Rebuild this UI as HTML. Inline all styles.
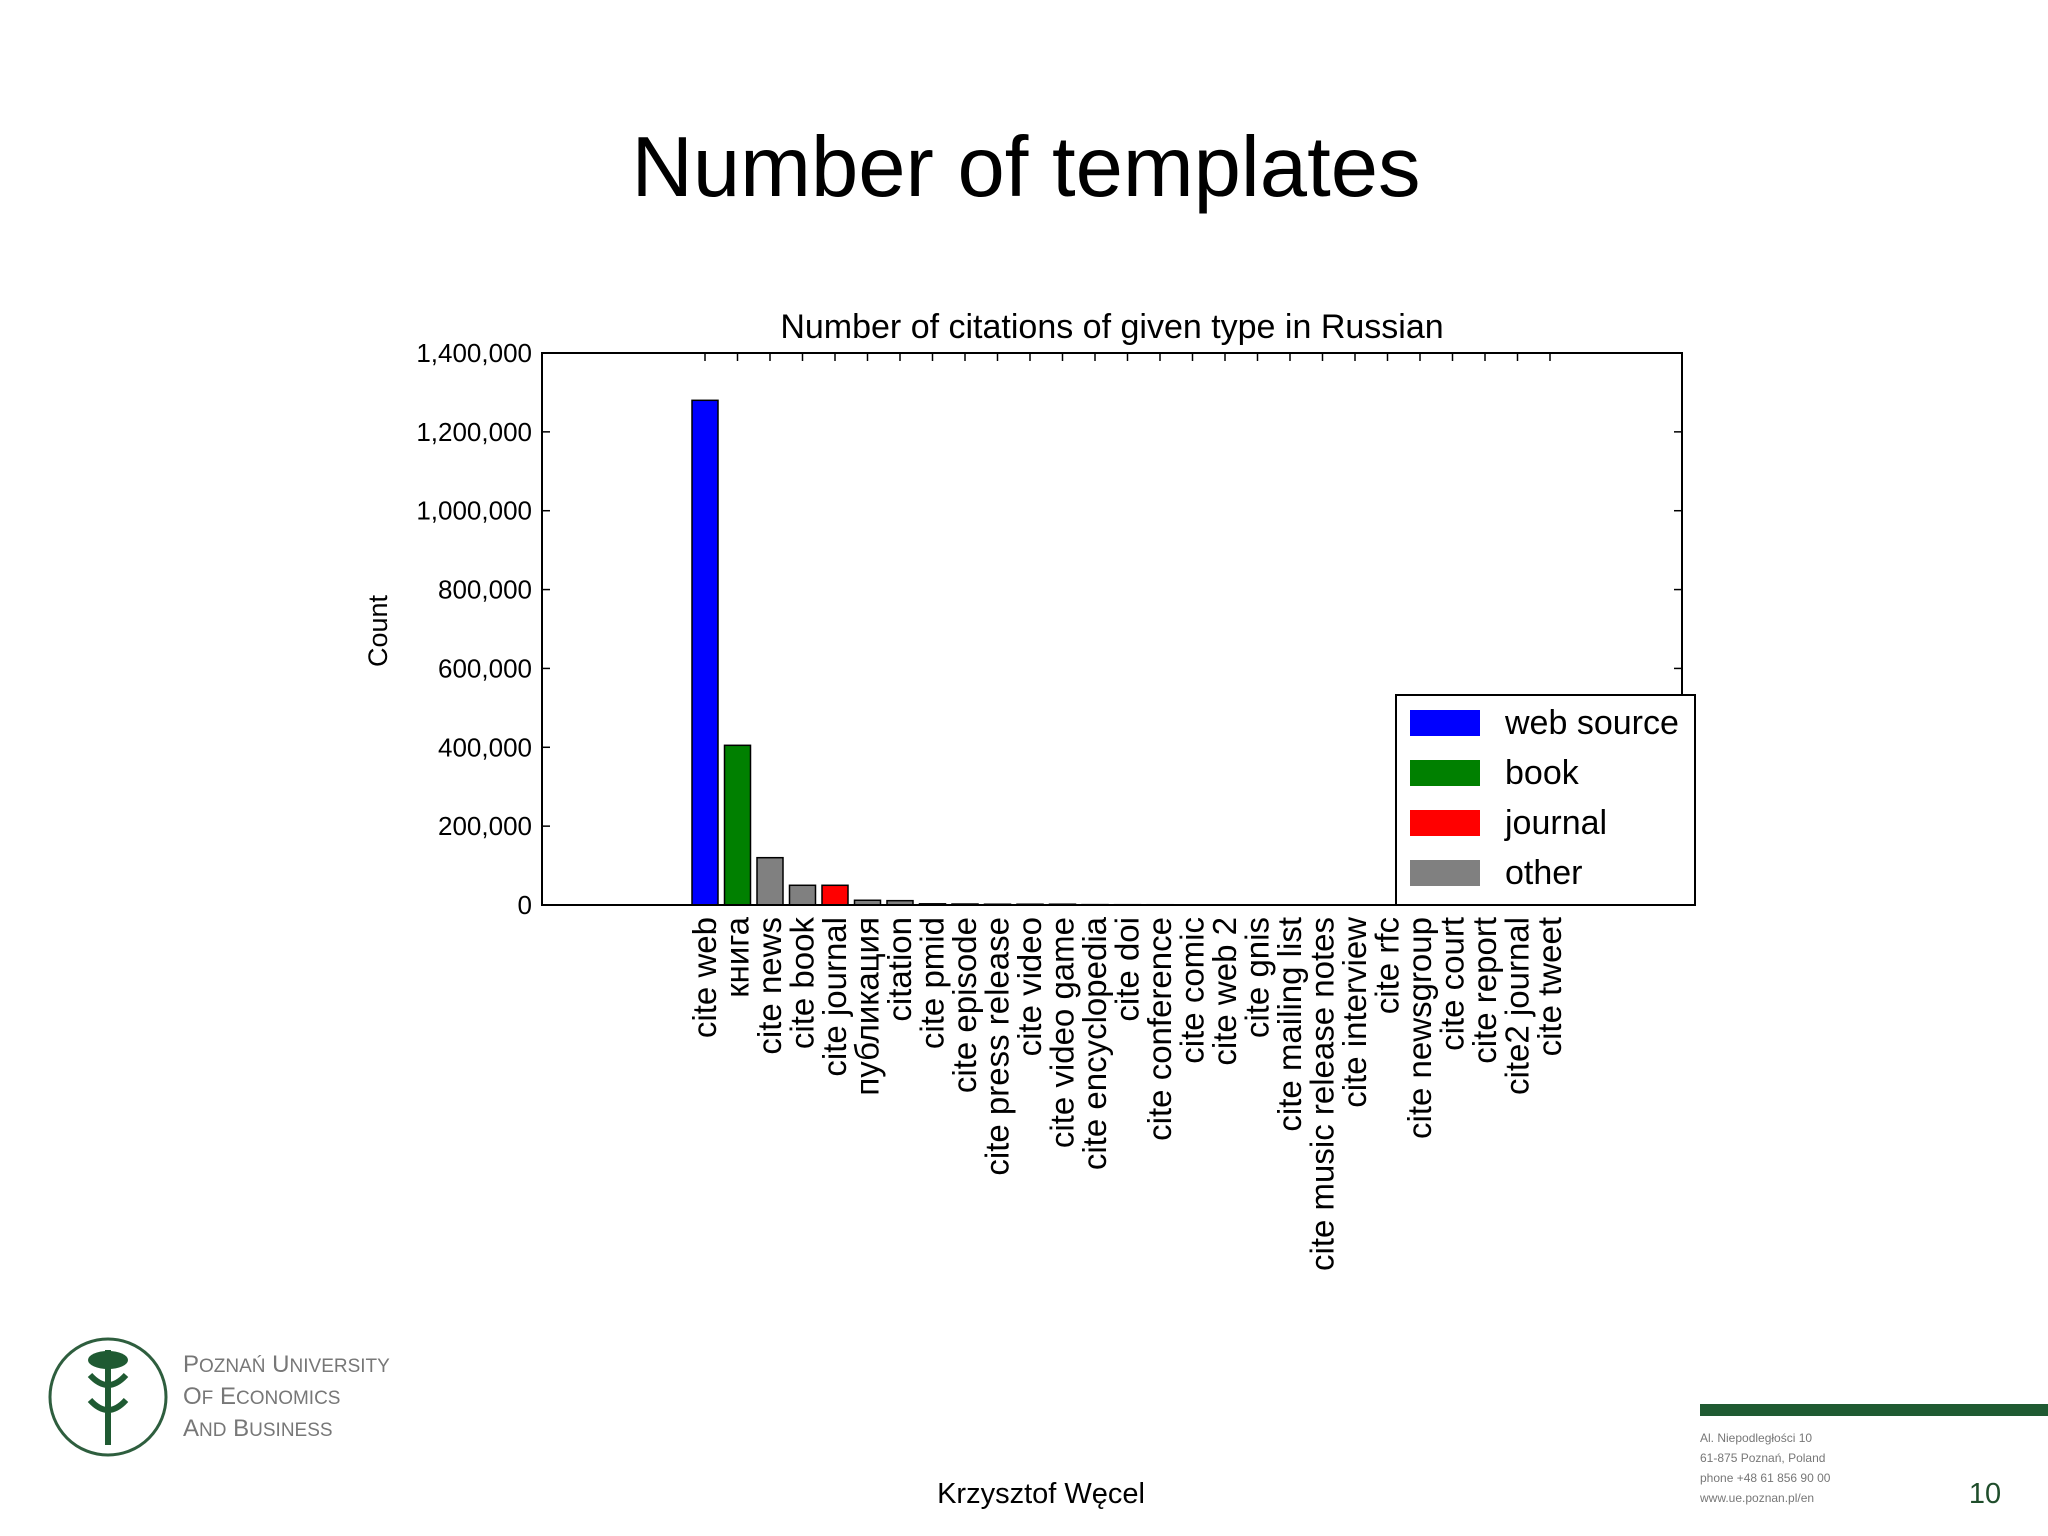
<!DOCTYPE html>
<html><head><meta charset="utf-8"><style>
body{margin:0;background:#fff;}
svg{display:block;font-family:"Liberation Sans",sans-serif;}
</style></head><body>
<svg id="s" width="2048" height="1536" viewBox="0 0 2048 1536">
<text x="1026" y="196" text-anchor="middle" font-size="85" font-family="Liberation Sans, sans-serif">Number of templates</text>
<text x="1112" y="338" text-anchor="middle" font-size="34">Number of citations of given type in Russian</text>
<text transform="translate(387,631) rotate(-90)" text-anchor="middle" font-size="27">Count</text>
<g id="chart"></g>
<g>
<rect x="1396" y="695" width="299" height="210" fill="#fff" stroke="#000" stroke-width="2"/>
<rect x="1410" y="710" width="70" height="26" fill="#0000ff"/>
<text x="1505" y="734" font-size="34">web source</text>
<rect x="1410" y="760" width="70" height="26" fill="#008000"/>
<text x="1505" y="784" font-size="34">book</text>
<rect x="1410" y="810" width="70" height="26" fill="#ff0000"/>
<text x="1505" y="834" font-size="34">journal</text>
<rect x="1410" y="860" width="70" height="26" fill="#808080"/>
<text x="1505" y="884" font-size="34">other</text>
</g>
<g>
<circle cx="108" cy="1397" r="58" fill="none" stroke="#2e5e3e" stroke-width="3"/>
<path d="M108 1350 L108 1445 M90 1375 Q108 1395 126 1375 M90 1400 Q108 1420 126 1400" stroke="#1f5a32" stroke-width="6" fill="none"/>
<ellipse cx="108" cy="1360" rx="20" ry="9" fill="#1f5a32"/>
<text x="183" y="1372" font-size="24" fill="#777">P<tspan font-size="19">OZNAŃ</tspan> U<tspan font-size="19">NIVERSITY</tspan></text>
<text x="183" y="1404" font-size="24" fill="#777">O<tspan font-size="19">F</tspan> E<tspan font-size="19">CONOMICS</tspan></text>
<text x="183" y="1436" font-size="24" fill="#777">A<tspan font-size="19">ND</tspan> B<tspan font-size="19">USINESS</tspan></text>
</g>
<text x="1041" y="1503" text-anchor="middle" font-size="29">Krzysztof Węcel</text>
<text x="1985" y="1503" text-anchor="middle" font-size="29" fill="#1f4d2b">10</text>
<rect x="1700" y="1404" width="348" height="12" fill="#1f5a32"/>
<g font-size="12" fill="#777">
<text x="1700" y="1442">Al. Niepodległości 10</text>
<text x="1700" y="1462">61-875 Poznań, Poland</text>
<text x="1700" y="1482">phone +48 61 856 90 00</text>
<text x="1700" y="1502">www.ue.poznan.pl/en</text>
</g>
</svg>
<script>
const categories=["cite web","книга","cite news","cite book","cite journal","публикация","citation","cite pmid","cite episode","cite press release","cite video","cite video game","cite encyclopedia","cite doi","cite conference","cite comic","cite web 2","cite gnis","cite mailing list","cite music release notes","cite interview","cite rfc","cite newsgroup","cite court","cite report","cite2 journal","cite tweet"];
const counts=[1280000,405000,120000,50000,50000,12000,11000,3000,2500,2000,2000,2000,1000,800,700,600,500,400,300,300,200,200,150,100,100,80,50];
const groups=["web","book","other","other","journal","other","other","other","other","other","other","other","other","other","other","other","other","other","other","other","other","other","other","other","other","other","other"];
const yTicks=[0,200000,400000,600000,800000,1000000,1200000,1400000];
const colors={web:"#0000ff",book:"#008000",journal:"#ff0000",other:"#808080"};
const L=542,R=1682,T=353,B=905,YMAX=1400000;
const y=v=>B-(v/YMAX)*(B-T);
const x=i=>705+i*32.5;
const NS="http://www.w3.org/2000/svg";
const g=document.getElementById('chart');
function mk(t,a){const e=document.createElementNS(NS,t);for(const k in a)e.setAttribute(k,a[k]);g.appendChild(e);return e;}
yTicks.forEach(v=>{
 const l=mk('line',{x1:L,x2:L+8,y1:y(v),y2:y(v),stroke:'#000','stroke-width':1.5});
 
 
 const l2=mk('line',{x1:R-8,x2:R,y1:y(v),y2:y(v),stroke:'#000','stroke-width':1.5});
 
 
 const t=mk('text',{x:L-10,y:y(v)+9,'text-anchor':'end','font-size':26});
 t.textContent=v.toLocaleString('en-US');
 
 
});
categories.forEach((c,i)=>{
 const v=counts[i];
 const r=mk('rect',{x:x(i)-13,y:y(v),width:26,height:B-y(v),fill:colors[groups[i]],stroke:'#000','stroke-width':1.5});
 
 
 const tk=mk('line',{x1:x(i),x2:x(i),y1:T,y2:T+8,stroke:'#000','stroke-width':1.5});
 
 
 const t=mk('text',{transform:`translate(${x(i)+11},${B+12}) rotate(-90)`,'text-anchor':'end','font-size':33});
 t.textContent=c;
 
 
});
const fr=mk('rect',{x:L,y:T,width:R-L,height:B-T,fill:'none',stroke:'#000','stroke-width':2});


</script>
</body></html>
